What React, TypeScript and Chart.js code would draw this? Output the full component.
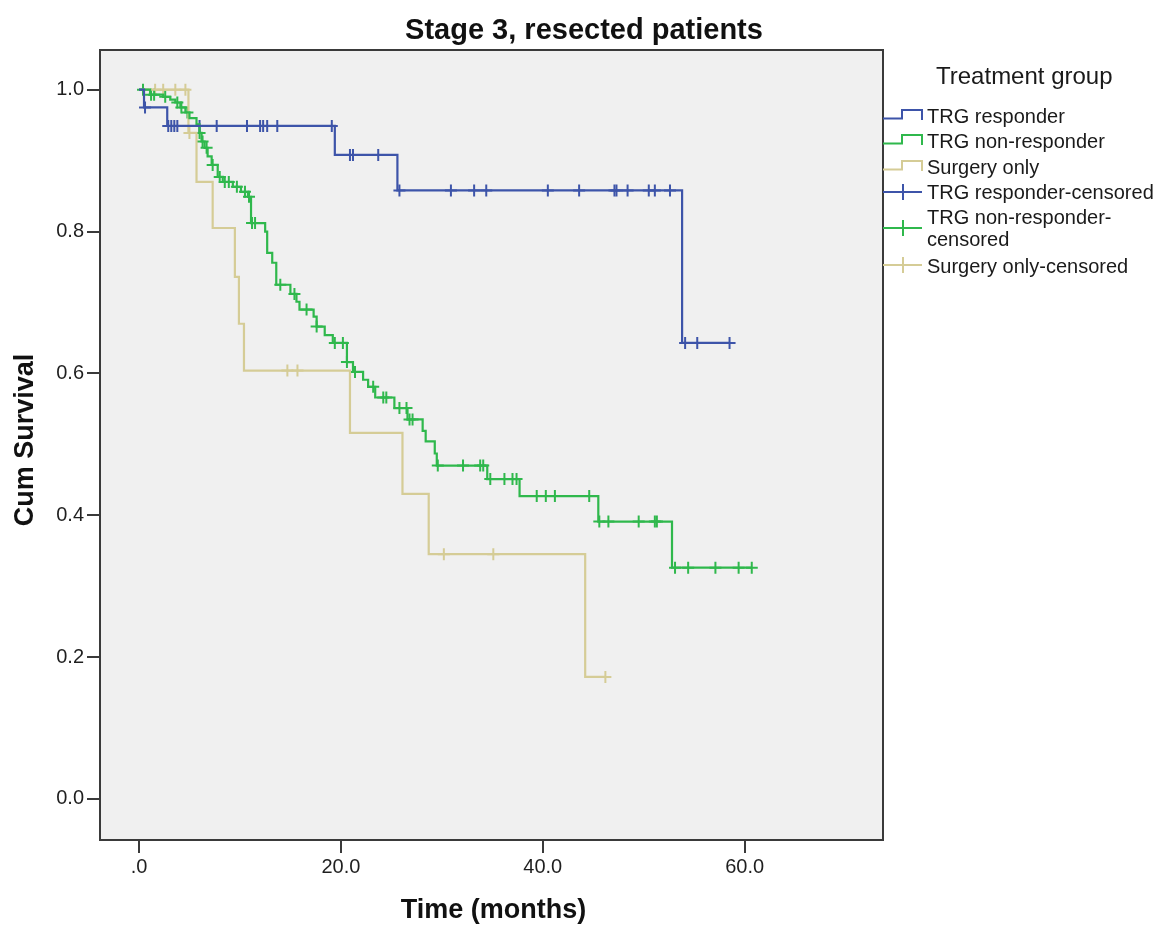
import { useEffect, useRef } from "react";
import { Chart, registerables } from "chart.js";

Chart.register(...registerables);

const titleText = "Stage 3, resected patients";
const xTitle = "Time (months)";
const yTitle = "Cum Survival";
const legendTitle = "Treatment group";

const xTickValues = [0, 20, 40, 60];
const xTickLabels = [".0", "20.0", "40.0", "60.0"];
const yTickValues = [0, 0.2, 0.4, 0.6, 0.8, 1.0];
const yTickLabels = ["0.0", "0.2", "0.4", "0.6", "0.8", "1.0"];

const groupNames = ["TRG responder", "TRG non-responder", "Surgery only"];
const censoredNames = ["TRG responder-censored", "TRG non-responder-censored", "Surgery only-censored"];
const groupColors = ["#3d54a9", "#2fb84c", "#d5cc96"];

// Kaplan-Meier steps: event times (months) and survival after each event
const responderTimes = [0, 0.5, 2.8, 19.4, 25.6, 53.8];
const responderSurv = [1.0, 0.975, 0.949, 0.908, 0.858, 0.643];
const responderEnd = 58.5;
const responderCensored = [0.6, 2.9, 3.2, 3.5, 3.8, 6.0, 7.7, 10.7, 12.0, 12.3, 12.7, 13.7, 19.1, 20.9, 21.2, 23.7, 25.8, 30.9, 33.2, 34.4, 40.5, 43.6, 47.1, 47.3, 48.4, 50.5, 51.1, 52.6, 54.1, 55.3, 58.5];

const nonResponderTimes = [0, 1.1, 2.4, 3.1, 3.6, 4.1, 4.6, 5.0, 5.7, 6.0, 6.2, 6.5, 6.8, 7.2, 7.8, 8.3, 9.3, 10.1, 10.8, 11.1, 12.5, 12.7, 13.2, 13.6, 15.0, 15.6, 15.9, 17.3, 17.6, 18.4, 19.2, 20.6, 21.2, 22.2, 22.7, 23.4, 25.3, 26.6, 28.1, 28.4, 29.3, 29.5, 34.5, 37.7, 45.5, 52.8];
const nonResponderSurv = [1.0, 0.993, 0.99, 0.986, 0.982, 0.975, 0.968, 0.96, 0.951, 0.939, 0.927, 0.918, 0.906, 0.894, 0.877, 0.87, 0.863, 0.856, 0.849, 0.812, 0.8, 0.77, 0.756, 0.725, 0.712, 0.701, 0.69, 0.68, 0.666, 0.654, 0.643, 0.616, 0.602, 0.591, 0.581, 0.566, 0.551, 0.535, 0.519, 0.504, 0.487, 0.47, 0.451, 0.427, 0.391, 0.326];
const nonResponderEnd = 60.7;
const nonResponderCensored = [0.4, 1.2, 1.5, 2.6, 3.8, 4.2, 4.8, 6.0, 6.3, 6.7, 7.3, 8.0, 8.5, 8.9, 9.7, 10.5, 10.9, 11.2, 11.5, 14.0, 15.4, 16.6, 17.6, 19.4, 20.2, 20.6, 21.4, 23.2, 24.2, 24.5, 25.8, 26.5, 26.8, 27.1, 29.6, 32.1, 33.8, 34.1, 34.8, 36.2, 37.0, 37.4, 39.4, 40.3, 41.2, 44.6, 45.6, 46.5, 49.5, 51.1, 51.3, 53.1, 54.4, 57.1, 59.4, 60.7];

const surgeryTimes = [0, 4.9, 5.7, 7.3, 9.5, 9.9, 10.4, 20.9, 26.1, 28.7, 44.2];
const surgerySurv = [1.0, 0.939, 0.87, 0.805, 0.736, 0.67, 0.604, 0.516, 0.43, 0.345, 0.172];
const surgeryEnd = 46.2;
const surgeryCensored = [1.6, 2.4, 3.6, 4.6, 5.0, 14.7, 15.7, 30.2, 35.1, 46.2];

const FONT = "'Liberation Sans', Arial, sans-serif";

function survivalAt(times: number[], surv: number[], t: number) {
  let s = surv[0];
  for (let i = 0; i < times.length; i++) {
    if (times[i] <= t) s = surv[i];
  }
  return s;
}

function curvePoints(times: number[], surv: number[], end: number) {
  const pts = times.map((t, i) => ({ x: t, y: surv[i] }));
  pts.push({ x: end, y: surv[surv.length - 1] });
  return pts;
}

function censorPoints(times: number[], surv: number[], cens: number[]) {
  return cens.map((t) => ({ x: t, y: survivalAt(times, surv, t) }));
}

const decorations = {
  id: "kmDecorations",
  beforeDraw(chart: any) {
    const { ctx, chartArea: a } = chart;
    ctx.save();
    ctx.fillStyle = "#ffffff";
    ctx.fillRect(0, 0, chart.width, chart.height);
    ctx.fillStyle = "#f0f0f0";
    ctx.fillRect(a.left, a.top, a.right - a.left, a.bottom - a.top);
    ctx.restore();
  },
  afterDraw(chart: any) {
    const { ctx, chartArea: a } = chart;
    ctx.save();
    // plot frame
    ctx.strokeStyle = "#3a3a3a";
    ctx.lineWidth = 2;
    ctx.strokeRect(a.left, a.top, a.right - a.left, a.bottom - a.top);

    // title
    ctx.fillStyle = "#111111";
    ctx.textAlign = "center";
    ctx.textBaseline = "middle";
    ctx.font = `bold 29px ${FONT}`;
    ctx.fillText(titleText, chart.width / 2, 31);

    // axis titles
    ctx.font = `bold 27px ${FONT}`;
    ctx.fillText(xTitle, (a.left + a.right) / 2 + 2, 911);
    ctx.save();
    ctx.translate(26, 440);
    ctx.rotate(-Math.PI / 2);
    ctx.fillText(yTitle, 0, 0);
    ctx.restore();

    // legend
    const lx = a.right;
    ctx.textAlign = "left";
    ctx.font = `24px ${FONT}`;
    ctx.fillStyle = "#1a1a1a";
    ctx.fillText(legendTitle, 936, 77);

    ctx.font = `20px ${FONT}`;
    const lineRows = [117, 142, 168];
    lineRows.forEach((cy, i) => {
      ctx.strokeStyle = groupColors[i];
      ctx.lineWidth = 2;
      ctx.beginPath();
      ctx.moveTo(lx, cy + 1.5);
      ctx.lineTo(lx + 19, cy + 1.5);
      ctx.lineTo(lx + 19, cy - 7);
      ctx.lineTo(lx + 39, cy - 7);
      ctx.lineTo(lx + 39, cy + 3);
      ctx.stroke();
      ctx.fillStyle = "#1a1a1a";
      ctx.fillText(groupNames[i], 927, cy);
    });

    const censRows = [
      { icon: 192, lines: [193], texts: [censoredNames[0]] },
      { icon: 228, lines: [218, 240], texts: ["TRG non-responder-", "censored"] },
      { icon: 265, lines: [267], texts: [censoredNames[2]] },
    ];
    censRows.forEach((r, i) => {
      ctx.strokeStyle = groupColors[i];
      ctx.lineWidth = 2;
      ctx.beginPath();
      ctx.moveTo(lx, r.icon);
      ctx.lineTo(lx + 39, r.icon);
      ctx.moveTo(lx + 20, r.icon - 8);
      ctx.lineTo(lx + 20, r.icon + 8);
      ctx.stroke();
      ctx.fillStyle = "#1a1a1a";
      r.texts.forEach((t, k) => ctx.fillText(t, 927, r.lines[k]));
    });
    ctx.restore();
  },
};

export default function App() {
  const canvasRef = useRef<HTMLCanvasElement | null>(null);

  useEffect(() => {
    const canvas = canvasRef.current;
    if (!canvas) return;

    const lineSet = (label: string, data: any[], color: string) => ({
      type: "line" as const,
      label,
      data,
      borderColor: color,
      backgroundColor: color,
      borderWidth: 2.2,
      stepped: "before" as const,
      pointRadius: 0,
      fill: false,
      showLine: true,
    });
    const censorSet = (label: string, data: any[], color: string) => ({
      type: "scatter" as const,
      label,
      data,
      borderColor: color,
      backgroundColor: color,
      pointStyle: "cross" as const,
      pointRadius: 6,
      pointBorderWidth: 2,
      showLine: false,
    });

    const chart = new Chart(canvas, {
      type: "scatter",
      data: {
        datasets: [
          lineSet(groupNames[0], curvePoints(responderTimes, responderSurv, responderEnd), groupColors[0]),
          lineSet(groupNames[1], curvePoints(nonResponderTimes, nonResponderSurv, nonResponderEnd), groupColors[1]),
          lineSet(groupNames[2], curvePoints(surgeryTimes, surgerySurv, surgeryEnd), groupColors[2]),
          censorSet(censoredNames[0], censorPoints(responderTimes, responderSurv, responderCensored), groupColors[0]),
          censorSet(censoredNames[1], censorPoints(nonResponderTimes, nonResponderSurv, nonResponderCensored), groupColors[1]),
          censorSet(censoredNames[2], censorPoints(surgeryTimes, surgerySurv, surgeryCensored), groupColors[2]),
        ] as any,
      },
      options: {
        animation: false,
        responsive: false,
        maintainAspectRatio: false,
        events: [],
        layout: { padding: { top: 50, right: 285, bottom: 0, left: 0 } },
        plugins: {
          legend: { display: false },
          title: { display: false },
          tooltip: { enabled: false },
        },
        scales: {
          x: {
            type: "linear",
            min: -3.86,
            max: 73.7,
            afterFit: (s: any) => {
              s.height = 85;
            },
            afterBuildTicks: (s: any) => {
              s.ticks = xTickValues.map((v) => ({ value: v }));
            },
            ticks: {
              callback: (v: any) => xTickLabels[xTickValues.indexOf(Number(v))] ?? "",
              font: { family: FONT, size: 20 },
              color: "#1f1f1f",
              padding: 2,
              maxRotation: 0,
              autoSkip: false,
            },
            grid: {
              display: true,
              drawOnChartArea: false,
              drawTicks: true,
              tickLength: 13,
              color: "#3a3a3a",
              lineWidth: 2,
            },
            border: { display: false },
          },
          y: {
            type: "linear",
            min: -0.058,
            max: 1.056,
            afterFit: (s: any) => {
              s.width = 100;
            },
            afterBuildTicks: (s: any) => {
              s.ticks = yTickValues.map((v) => ({ value: v }));
            },
            ticks: {
              callback: (v: any) => {
                const idx = yTickValues.findIndex((t) => Math.abs(t - Number(v)) < 1e-9);
                return idx >= 0 ? yTickLabels[idx] : "";
              },
              font: { family: FONT, size: 20 },
              color: "#1f1f1f",
              padding: 3,
              autoSkip: false,
            },
            grid: {
              display: true,
              drawOnChartArea: false,
              drawTicks: true,
              tickLength: 13,
              color: "#3a3a3a",
              lineWidth: 2,
            },
            border: { display: false },
          },
        },
      },
      plugins: [decorations],
    });

    return () => chart.destroy();
  }, []);

  return (
    <div style={{ position: "absolute", left: 0, top: 0, width: 1168, height: 925, background: "#ffffff" }}>
      <canvas ref={canvasRef} width={1168} height={925} style={{ display: "block" }} />
    </div>
  );
}
